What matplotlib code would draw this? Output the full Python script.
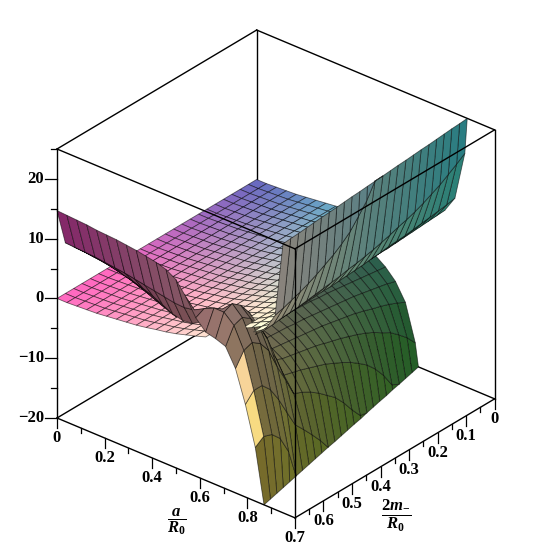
import numpy as np
import matplotlib
matplotlib.use('Agg')
import matplotlib.pyplot as plt
from matplotlib.lines import Line2D
from matplotlib.transforms import IdentityTransform
from mpl_toolkits.mplot3d import proj3d
from mpl_toolkits.mplot3d.art3d import Poly3DCollection

plt.rcParams['font.family'] = ['Liberation Serif']
plt.rcParams['mathtext.fontset'] = 'custom'
plt.rcParams['mathtext.rm'] = 'Liberation Serif:bold'
plt.rcParams['mathtext.it'] = 'Liberation Serif:italic:bold'
plt.rcParams['mathtext.bf'] = 'Liberation Serif:bold'

# sample lines of the surfaces, 25 x 25 like the original
a_grid = np.linspace(0, 1, 25)
m_grid = np.linspace(0, 0.7, 25)

# upper sheet + wing. first 16 columns are nearly the same for every m
sheet_flat = [0, 0, 0.1, 0.2, 0.3, 0.5, 0.7, 0.9, 1.1, 1.4, 1.75, 2.05, 2.45, 2.95, 3.45, 4.0]
nan = float('nan')
sheet_tail = [
    [4.6, 5.4, 6.5, 8.1, 10.8, 19],
    [4.6, 5.4, 6.5, 8.0, 10.5, 18],
    [4.6, 5.4, 6.5, 7.9, 10.3, 17.1],
    [4.6, 5.4, 6.4, 7.8, 10.1, 16.2],
    [4.6, 5.4, 6.4, 7.7, 9.9, 15.5],
    [4.6, 5.4, 6.4, 7.6, 9.7, 14.8],
    [4.6, 5.3, 6.4, 7.5, 9.5, 14.2],
    [4.6, 5.3, 6.3, 7.4, 9.4, 13.7],
    [4.6, 5.3, 6.3, 7.4, 9.3, 13.3],
    [4.6, 5.3, 6.3, 7.3, 9.1, 12.8],
    [4.6, 5.3, 6.3, 7.3, 9.0, 12.4],
    [4.6, 5.3, 6.2, 7.2, 8.8, 12.0],
    [4.6, 5.3, 6.2, 7.2, 8.7, 11.7],
    [4.6, 5.3, 6.2, 7.1, 8.6, 11.4, 22.5],
    [4.6, 5.3, 6.2, 7.1, 8.5, 11.2, 20.7],
    [4.6, 5.2, 6.2, 7.0, 8.4, 10.9, 19.0],
    [4.6, 5.2, 6.1, 7.0, 8.4, 10.7, 17.8],
    [4.6, 5.2, 6.1, 7.0, 8.3, 10.5, 16.8],
    [4.6, 5.2, 6.1, 7.0, 8.2, 10.3, 16.0],
    [4.6, 5.2, 6.1, 6.9, 8.2, 10.1, 15.2],
    [4.6, 5.2, 6.1, 6.9, 8.1, 9.9, 14.5],
    [4.6, 5.2, 6.1, 6.9, 8.0, 9.8, 13.9],
    [4.6, 5.2, 6.0, 6.9, 8.0, 9.7, 13.4],
    [nan, nan, nan, 6.8, 7.9, 9.5, 12.9],
    [nan, nan, nan, nan, 7.9, 9.4, 12.5],
]
# a where the wing leaves the view at z=25
sheet_clip = [0.885, 0.888, 0.890, 0.893, 0.896, 0.899, 0.901, 0.904, 0.907, 0.909, 0.912, 0.915, 0.9175,
              0.920, 0.923, 0.925, 0.928, 0.931, 0.934, 0.936, 0.939, 0.942, 0.945, 0.947, 0.950]

# lower surface + band, hidden part under the sheet sits at this level
under_level = -3.0
# rows m index 0..14, columns from index 11 on
under_tail = [
    [-3.5, -4.4, -5.6, -7.3, -10.1, -16.2],
    [-3.4, -4.2, -5.4, -6.9, -9.4, -14.5],
    [-3.3, -4.1, -5.2, -6.6, -8.8, -13.2],
    [-3.2, -3.9, -5.0, -6.3, -8.3, -12.0],
    [-3.1, -3.8, -4.8, -6.0, -7.9, -11.2, -19.2],
    [-3.1, -3.7, -4.6, -5.7, -7.4, -10.3, -16.8],
    [-3.0, -3.6, -4.4, -5.5, -7.0, -9.6, -14.9],
    [-3.0, -3.5, -4.2, -5.3, -6.7, -9.0, -13.4],
    [-3.0, -3.4, -4.1, -5.1, -6.4, -8.5, -12.3],
    [-3.0, -3.2, -3.9, -4.9, -6.1, -8.0, -11.3, -19.5],
    [-3.0, -3.1, -3.8, -4.7, -5.8, -7.6, -10.5, -17.7],
    [-3.0, -3.0, -3.7, -4.5, -5.6, -7.2, -9.8, -15.7],
    [-3.0, -3.0, -3.6, -4.4, -5.4, -6.8, -9.1, -14.0],
    [-3.0, -3.0, -3.5, -4.2, -5.2, -6.5, -8.6, -12.8],
    [-3.0, -3.0, -3.4, -4.1, -5.0, -6.2, -8.1, -11.6],
]
# rows m index 15..24, all columns
band_rows = [
    [-2, -2.2, -2.4, -2.6, -2.8, -3, -3, -3, -3, -3, -3, -3, -3.1, -3.4, -4, -4.8, -5.9, -7.6, -10.6, -18],
    [-1, -1.2, -1.5, -1.9, -2.2, -2.5, -2.8, -3, -3, -3, -3, -3, -3, -3.3, -3.9, -4.6, -5.6, -7.2, -9.8, -16.2],
    [0.3, 0.1, -0.3, -0.7, -1.1, -1.6, -2, -2.4, -2.7, -2.9, -3, -3, -3.1, -3.3, -3.8, -4.5, -5, -6.8, -9.2, -14.5],
    [1.5, 1.3, 0.9, 0.4, -0.1, -0.7, -1.2, -1.7, -2.1, -2.4, -2.7, -2.8, -3, -3.2, -3.5, -3.5, -2, -3, -6, -12.9],
    [2.8, 2.6, 2.2, 1.7, 1.2, 0.6, 0, -0.6, -1.2, -1.6, -1.9, -2.1, -2.2, -2, -1.4, 0, 3, 1, -3, -10],
    [4, 3.9, 3.6, 3.2, 2.7, 2.1, 1.5, 0.8, 0.2, -0.4, -0.8, -1, -0.9, -0.4, 0.8, 2.8, 5.5, 4, 0.5, -7, -15],
    [5.5, 5.4, 5.2, 4.9, 4.5, 4, 3.4, 2.7, 2, 1.3, 0.8, 0.6, 0.8, 1.6, 3, 5, 7.5, 6, 2.5, -4.5, -12],
    [7, 6.9, 6.7, 6.5, 6.2, 5.8, 5.4, 4.9, 4.3, 3.5, 2.7, 2.3, 2.5, 3.5, 5, 7, 8.6, 7, 3.5, -3, -10.5],
    [8.5, 8.4, 8.3, 8.2, 8, 7.8, 7.6, 7.3, 7, 6.7, 6.4, 6.1, 6, 6.3, 7.2, 8, 8, 6.5, 3, -3, -10],
    [14.7, 14.6, 14.5, 14.4, 14.2, 14.1, 14, 13.8, 13.6, 13.3, 13, 12.5, 11.5, 9.3, 6.5, 4.8, 4.4, 3.8, 0.8, -4.5, -11],
]
# a where the lower surface leaves the view at z=-20
under_clip = [0.680, 0.688, 0.696, 0.704, 0.711, 0.720, 0.727, 0.735, 0.743, 0.752, 0.759, 0.767, 0.775,
              0.783, 0.790, 0.798, 0.806, 0.814, 0.822, 0.830, 0.838, 0.846, 0.854, 0.862, 0.870]

z_major = [-20, -10, 0, 10, 20]
z_minor = [-15, -5, 5, 15, 25]
a_major = [0, 0.2, 0.4, 0.6, 0.8]
a_minor = [0.1, 0.3, 0.5, 0.7, 0.9]
m_major = [0, 0.1, 0.2, 0.3, 0.4, 0.5, 0.6, 0.7]
m_minor = [0.05, 0.15, 0.25, 0.35, 0.45, 0.55, 0.65]
z_lo, z_hi = -20, 25

light = np.array([-0.1, 0.6, 0.8])
light = light / np.linalg.norm(light)
# towards the camera, in (a, m, z) of the unit cube
view = np.array([0.557, 0.663, 0.5])


def build_rows(rows, clips, z_clip):
    xs, zs = [], []
    for vals, c in zip(rows, clips):
        z = np.full(25, float(z_clip))
        z[:len(vals)] = vals
        xs.append(np.minimum(a_grid, c))
        zs.append(z)
    return np.array(xs), np.array(zs)


def quads(xs, zs, lower):
    polys, cols = [], []
    for j in range(24):
        for i in range(24):
            az = [xs[j, i], xs[j, i+1], xs[j+1, i+1], xs[j+1, i]]
            mz = [m_grid[j], m_grid[j], m_grid[j+1], m_grid[j+1]]
            zz = [zs[j, i], zs[j, i+1], zs[j+1, i+1], zs[j+1, i]]
            if np.isnan(zz).any():
                continue
            if max(az) - min(az) < 1e-6:
                continue
            if az[0] == az[1] and az[2] == az[3] and zz[0] == zz[1] and zz[2] == zz[3]:
                continue
            # unit cube coordinates for shading and xyz colours
            p = np.array([az, np.array(mz) / 0.7, (np.array(zz) - z_lo) / (z_hi - z_lo)]).T
            n = np.cross(p[2] - p[0], p[3] - p[1])
            n = n / (np.linalg.norm(n) + 1e-9)
            if n[2] < 0:
                n = -n
            f = min(abs(n @ light) / 0.8, 1)
            if lower:
                # yellow strip along the front edge is the only part in the light
                if j == 23 and i in (18, 19):
                    f = 0.75
                else:
                    f = 0.16 + 0.15 * f
            elif n @ view < 0:
                f = 0.2 + 0.15 * f
            c = p.mean(axis=0)[[1, 0, 2]]
            rgb = np.clip(c * (0.25 + 0.55 * f) + (0.08 + 0.32 * f), 0, 1)
            polys.append(list(zip(az, mz, zz)))
            cols.append(rgb)
    return polys, cols


sheet = [sheet_flat + t for t in sheet_tail]
under = [[under_level] * 11 + t for t in under_tail] + band_rows
p1, c1 = quads(*build_rows(sheet, sheet_clip, z_hi), False)
p2, c2 = quads(*build_rows(under, under_clip, z_lo), True)

fig = plt.figure(figsize=(5.52, 5.49), dpi=100)
ax = fig.add_axes([0, 0, 1, 1], projection='3d', proj_type='ortho')
ax.computed_zorder = False
ax.set_axis_off()
ax.view_init(elev=30, azim=-50)
ax.set_box_aspect((1, 1, 1))

surf = Poly3DCollection(p1 + p2, facecolors=c1 + c2, edgecolors=(0, 0, 0, 0.55), linewidths=0.6,
                        zsort='average', zorder=2)
surf.set_clip_on(False)
ax.add_collection3d(surf)


def edge(p, q, zo):
    ax.plot([p[0], q[0]], [p[1], q[1]], [p[2], q[2]], color='k', lw=1.0, zorder=zo, clip_on=False)


# box: back lines below the surface, the rest over it
edge((0, 0, z_lo), (0, 0, z_hi), 1)
edge((0, 0, z_lo), (0, 0.7, z_lo), 1)
edge((0, 0, z_lo), (1, 0, z_lo), 1)
edge((0, 0.7, z_lo), (1, 0.7, z_lo), 3)
edge((1, 0.7, z_lo), (1, 0, z_lo), 3)
for q in [(0, 0.7), (1, 0.7), (1, 0)]:
    edge((q[0], q[1], z_lo), (q[0], q[1], z_hi), 3)
edge((0, 0, z_hi), (0, 0.7, z_hi), 3)
edge((0, 0, z_hi), (1, 0, z_hi), 3)
edge((0, 0.7, z_hi), (1, 0.7, z_hi), 3)
edge((1, 0.7, z_hi), (1, 0, z_hi), 3)

ax.set_xlim(0, 1, view_margin=0)
ax.set_ylim(0.7, 0, view_margin=0)
ax.set_zlim(z_lo, z_hi, view_margin=0)


def px(a, m, z):
    x, y, _ = proj3d.proj_transform(a, m, z, ax.get_proj())
    return ax.transData.transform((x, y))


# fit the cube to the picture
fig.canvas.draw()
h = px(0, 0.7, z_hi)[1] - px(0, 0.7, z_lo)[1]
ax.set_box_aspect((1, 1, 1), zoom=269.0 / h)
fig.canvas.draw()
p = px(0, 0.7, z_lo)
pos = ax.get_position()
ax.set_position([pos.x0 + (57 - p[0]) / 552, pos.y0 + (549 - 418 - p[1]) / 549, pos.width, pos.height])
fig.canvas.draw()


def tick(p0, dx, dy, w=0.9):
    fig.add_artist(Line2D([p0[0], p0[0] + dx], [p0[1], p0[1] + dy], color='k', lw=w, transform=IdentityTransform()))


def label(p0, dx, dy, s, ha='center'):
    fig.text(p0[0] + dx, p0[1] + dy, s, transform=IdentityTransform(), ha=ha, va='center',
             fontsize=12, fontweight='bold')


for z in z_major:
    q = px(0, 0.7, z)
    tick(q, -12, 0)
    label(q, -13, 0, str(z).replace('-', '\u2212'), ha='right')
for z in z_minor:
    tick(px(0, 0.7, z), -6, 0)
for a in a_major:
    q = px(a, 0.7, z_lo)
    tick(q, 0, -10)
    label(q, 0, -20, '%g' % a)
for a in a_minor:
    tick(px(a, 0.7, z_lo), 0, -5)
for m in m_major:
    q = px(1, m, z_lo)
    tick(q, 0, -10)
    label(q, 0, -20, '%g' % m)
for m in m_minor:
    tick(px(1, m, z_lo), 0, -5)

fig.text(177, 549 - 522, r'$\dfrac{a}{R_0}$', transform=IdentityTransform(), ha='center', va='center', fontsize=12)
fig.text(396, 549 - 516, r'$\dfrac{2m_{-}}{R_0}$', transform=IdentityTransform(), ha='center', va='center', fontsize=12)

fig.savefig('out.png', dpi=100, facecolor='white')
